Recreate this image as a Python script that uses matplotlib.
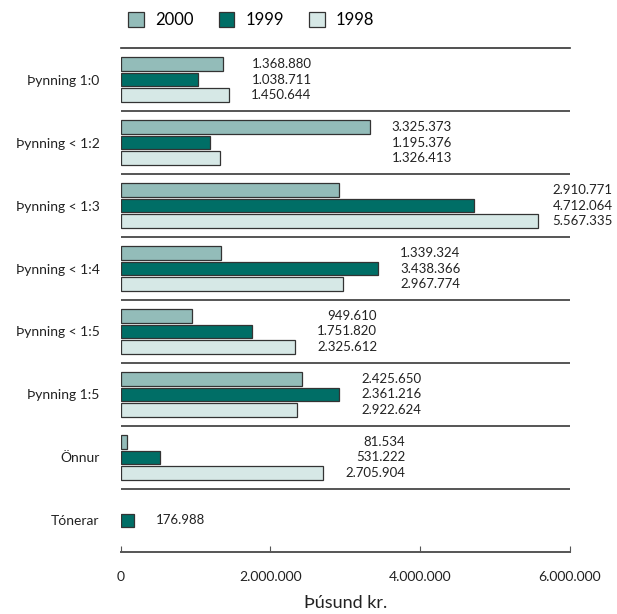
import numpy as np
import matplotlib
matplotlib.use("Agg")
import matplotlib.pyplot as plt
from matplotlib.patches import Patch

plt.rcParams['font.family'] = ['Lato', 'DejaVu Sans']

# data
categories = ['Þynning 1:0', 'Þynning < 1:2', 'Þynning < 1:3', 'Þynning < 1:4',
              'Þynning < 1:5', 'Þynning 1:5', 'Önnur', 'Tónerar']
years = ['2000', '1999', '1998']

# bar lengths as drawn
bars_2000 = [1368880, 3325373, 2910771, 1339324, 949610, 2425650, 81534, np.nan]
bars_1999 = [1038711, 1195376, 4712064, 3438366, 1751820, 2922624, 531222, 176988]
bars_1998 = [1450644, 1326413, 5567335, 2967774, 2325612, 2361216, 2705904, np.nan]

# numbers as printed next to the bars
text_2000 = ['1.368.880', '3.325.373', '2.910.771', '1.339.324', '949.610', '2.425.650', '81.534', '']
text_1999 = ['1.038.711', '1.195.376', '4.712.064', '3.438.366', '1.751.820', '2.361.216', '531.222', '176.988']
text_1998 = ['1.450.644', '1.326.413', '5.567.335', '2.967.774', '2.325.612', '2.922.624', '2.705.904', '']

colors = ['#93bcb9', '#006e66', '#d6e8e6']

fig = plt.figure(figsize=(6.17, 6.14), dpi=100)
ax = fig.add_axes([0.1953, 0.101, 0.7285, 0.8208])

series = [bars_2000, bars_1999, bars_1998]
texts = [text_2000, text_1999, text_1998]
offsets = [-0.25, 0.0, 0.25]
y = np.arange(len(categories))

for vals, col, off in zip(series, colors, offsets):
    v = np.array(vals, dtype=float)
    m = ~np.isnan(v)
    ax.barh(y[m] + off, v[m], height=0.22, color=col, edgecolor='#333333', linewidth=0.9)

# value labels, right aligned a bit past the longest bar of each group
for i in range(len(categories)):
    grp = np.array([s[i] for s in series], dtype=float)
    n = np.count_nonzero(~np.isnan(grp))
    if n == 1:
        k = int(np.where(~np.isnan(grp))[0][0])
        ax.text(grp[k] + 0.3e6, i + offsets[k], texts[k][i], ha='left', va='center',
                fontsize=9.5, color='#222222')
        continue
    xa = min(np.nanmax(grp) + 1.1e6, 6.57e6)
    for k in range(3):
        ax.text(xa, i + offsets[k], texts[k][i], ha='right', va='center',
                fontsize=9.5, color='#222222', clip_on=False)

for i in range(len(categories) - 1):
    ax.axhline(i + 0.5, color='#555555', lw=1.4)

ax.set_xlim(0, 6e6)
ax.set_ylim(7.5, -0.5)
ax.set_yticks(y)
ax.set_yticklabels(categories, fontsize=10, color='#222222')
ax.tick_params(axis='y', length=0, pad=15)
ax.set_xticks([0, 2e6, 4e6, 6e6])
ax.set_xticklabels(['0', '2.000.000', '4.000.000', '6.000.000'], fontsize=10, color='#222222')
ax.tick_params(axis='x', direction='in', length=4, color='#555555', pad=14)
ax.set_xlabel('Þúsund kr.', fontsize=13, color='#222222', labelpad=8)

for s in ['left', 'right']:
    ax.spines[s].set_visible(False)
ax.spines['top'].set_color('#333333')
ax.spines['top'].set_linewidth(1.2)
ax.spines['bottom'].set_color('#555555')
ax.spines['bottom'].set_linewidth(1.4)

handles = [Patch(facecolor=c, edgecolor='#333333', linewidth=0.9) for c in colors]
fig.legend(handles, years, loc='center left', bbox_to_anchor=(0.1945, 0.967), ncol=3,
           frameon=False, borderpad=0, prop={'size': 12},
           handlelength=0.95, handleheight=0.95, handletextpad=0.65, columnspacing=1.5)

fig.savefig('out.png', dpi=100)
